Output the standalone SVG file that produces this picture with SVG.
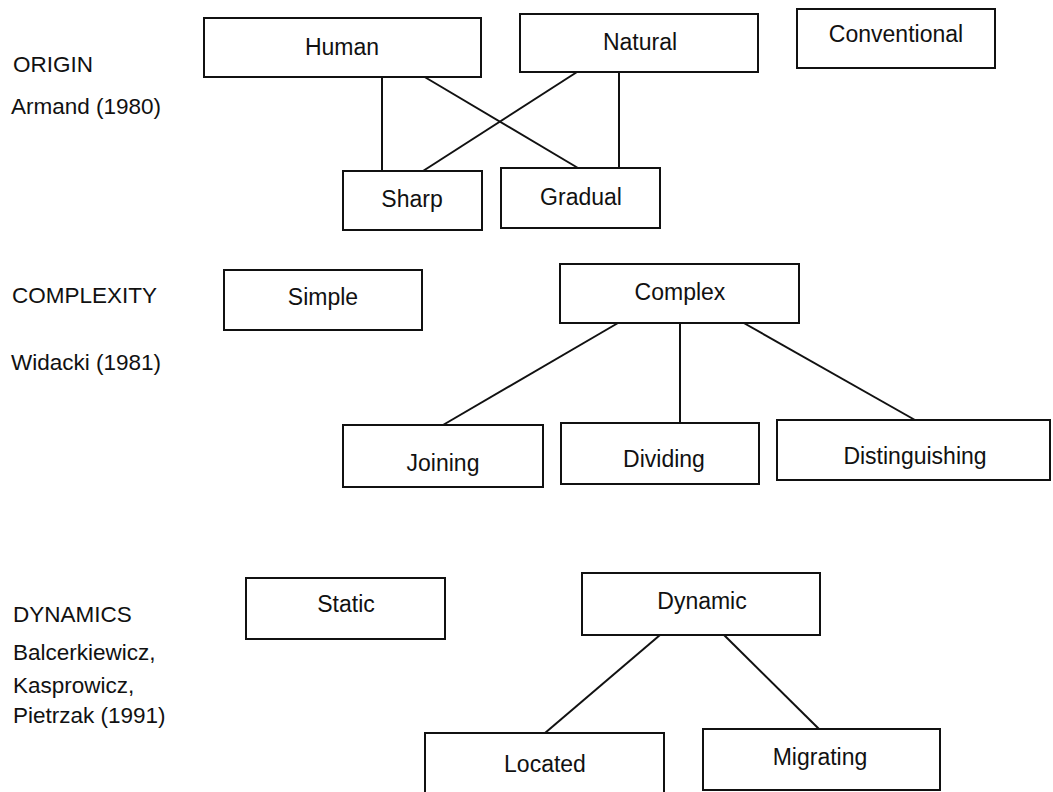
<svg xmlns="http://www.w3.org/2000/svg" width="1053" height="792" viewBox="0 0 1053 792">
<style>
.box{fill:#fff;stroke:#111;stroke-width:2}
.t{font-family:"Liberation Sans",Arial,sans-serif;font-size:23px;fill:#111;text-anchor:middle}
.l{font-family:"Liberation Sans",Arial,sans-serif;font-size:22.5px;fill:#111}
.c{stroke:#111;stroke-width:2;fill:none}
</style>
<rect width="1053" height="792" fill="#fff"/>
<g id="labels">
<text class="l" x="13" y="72">ORIGIN</text>
<text class="l" x="11" y="114">Armand (1980)</text>
<text class="l" x="12" y="303">COMPLEXITY</text>
<text class="l" x="11" y="370">Widacki (1981)</text>
<text class="l" x="13" y="622">DYNAMICS</text>
<text class="l" x="13" y="660">Balcerkiewicz,</text>
<text class="l" x="13" y="693">Kasprowicz,</text>
<text class="l" x="13" y="723">Pietrzak (1991)</text>
</g>
<g id="connectors">
<line class="c" x1="382" y1="77" x2="382" y2="171"/>
<line class="c" x1="423" y1="76" x2="578" y2="168"/>
<line class="c" x1="577" y1="72" x2="423" y2="171"/>
<line class="c" x1="619" y1="72" x2="619" y2="168"/>
<line class="c" x1="618" y1="323" x2="443" y2="425"/>
<line class="c" x1="680" y1="323" x2="680" y2="423"/>
<line class="c" x1="742" y1="322" x2="915" y2="420"/>
<line class="c" x1="660" y1="635" x2="545" y2="733"/>
<line class="c" x1="723" y1="634" x2="819" y2="729"/>
</g>
<g id="human"><rect class="box" x="204" y="18" width="277" height="59"/><text class="t" x="342" y="55">Human</text></g>
<g id="natural"><rect class="box" x="520" y="14" width="238" height="58"/><text class="t" x="640" y="50">Natural</text></g>
<g id="conventional"><rect class="box" x="797" y="9" width="198" height="59"/><text class="t" x="896" y="42">Conventional</text></g>
<g id="sharp"><rect class="box" x="343" y="171" width="139" height="59"/><text class="t" x="412" y="207">Sharp</text></g>
<g id="gradual"><rect class="box" x="501" y="168" width="159" height="60"/><text class="t" x="581" y="205">Gradual</text></g>
<g id="simple"><rect class="box" x="224" y="270" width="198" height="60"/><text class="t" x="323" y="305">Simple</text></g>
<g id="complex"><rect class="box" x="560" y="264" width="239" height="59"/><text class="t" x="680" y="300">Complex</text></g>
<g id="joining"><rect class="box" x="343" y="425" width="200" height="62"/><text class="t" x="443" y="471">Joining</text></g>
<g id="dividing"><rect class="box" x="561" y="423" width="198" height="61"/><text class="t" x="664" y="467">Dividing</text></g>
<g id="distinguishing"><rect class="box" x="777" y="420" width="273" height="60"/><text class="t" x="915" y="464">Distinguishing</text></g>
<g id="static"><rect class="box" x="246" y="578" width="199" height="61"/><text class="t" x="346" y="612">Static</text></g>
<g id="dynamic"><rect class="box" x="582" y="573" width="238" height="62"/><text class="t" x="702" y="609">Dynamic</text></g>
<g id="located"><rect class="box" x="425" y="733" width="239" height="60"/><text class="t" x="545" y="772">Located</text></g>
<g id="migrating"><rect class="box" x="703" y="729" width="237" height="61"/><text class="t" x="820" y="765">Migrating</text></g>
</svg>
